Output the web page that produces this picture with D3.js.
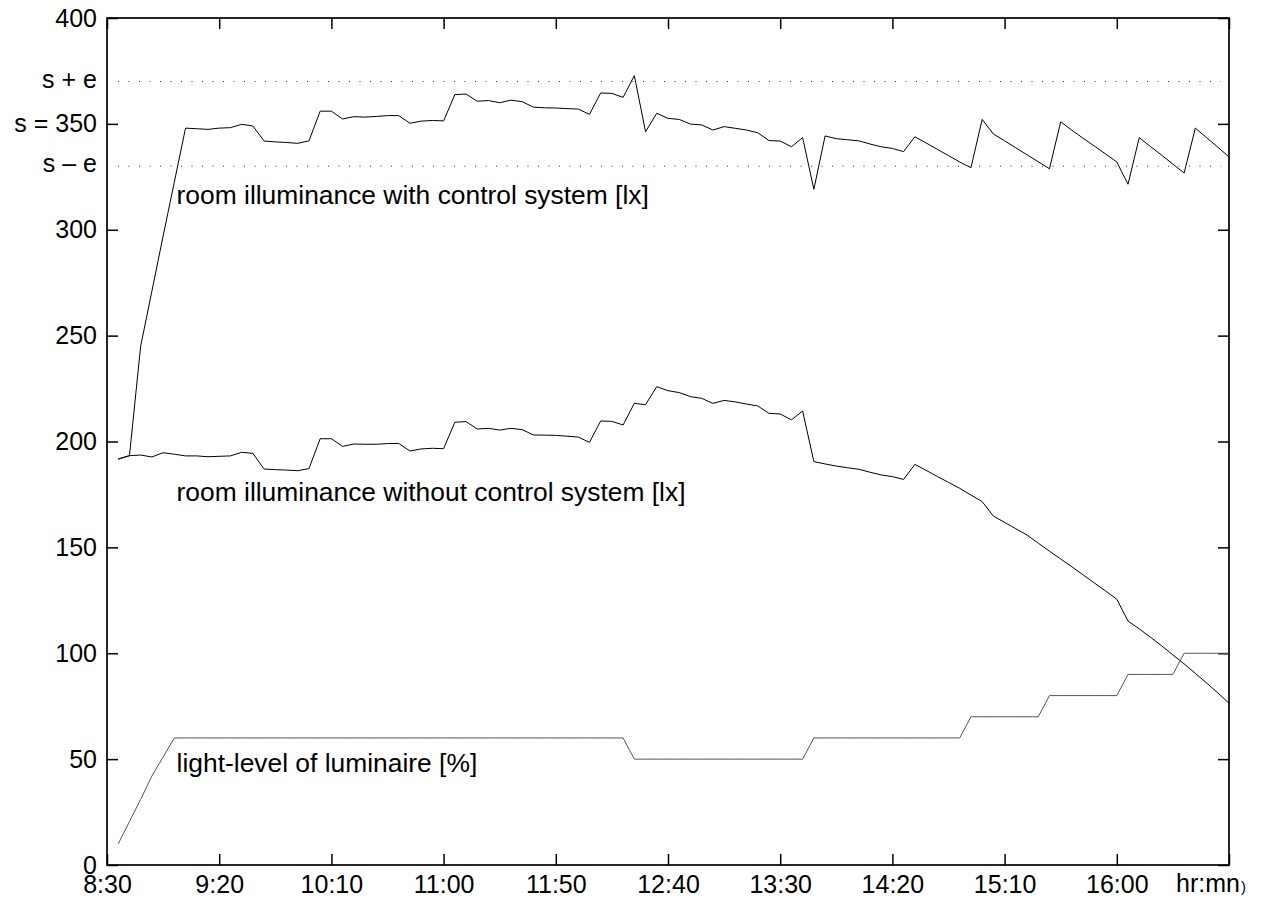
<!DOCTYPE html>
<html>
<head>
<meta charset="utf-8">
<script src="https://cdn.jsdelivr.net/npm/d3@7"></script>
<style>
  body { margin: 0; background: #fff; }
  text { font-family: "Liberation Sans", Arial, Helvetica, sans-serif; }
</style>
</head>
<body>
<div id="chart"></div>
<script>
// x tick labels (every 50 minutes), y ticks and control band
const xTickLabels = ["8:30", "9:20", "10:10", "11:00", "11:50", "12:40", "13:30", "14:20", "15:10", "16:00"];
const xEnd = "16:50";
const yTicks = [0, 50, 100, 150, 200, 250, 300, 350, 400];
const setPoint = 350;
const tolerance = 20;

// samples: one every 5 minutes, starting at 8:35
const sampleStart = "8:35";
const sampleStep = 5;

const withControl = [
    191.7, 193.3, 245, 271, 297, 322.5, 348, 347.7, 347.4, 348,
    348.2, 349.8, 349, 341.9, 341.5, 341.2, 340.8, 342, 356, 356,
    352.3, 353.4, 353.2, 353.5, 353.9, 353.9, 350.3, 351.3, 351.6, 351.4,
    363.8, 364.1, 360.7, 361, 360, 361.2, 360.5, 357.9, 357.6, 357.5,
    357.2, 357, 354.5, 364.6, 364.4, 362.5, 372.8, 346.3, 355, 352.6,
    352.1, 349.9, 349.5, 347.1, 348.7, 347.9, 347.1, 345.8, 342.1, 341.9,
    339.2, 343.5, 319.1, 344.3, 343, 342.5, 342, 340.5, 339.2, 338.4,
    336.9, 343.9, 341, 338, 335, 332, 329.3, 352.1, 345.2, 342,
    338.7, 335.4, 332.1, 328.8, 351, 347, 343.2, 339.5, 335.8, 332,
    321.5, 343.5, 339.3, 335.2, 331, 326.8, 348, 343.5, 339, 334.4
];

const withoutControl = [
    191.7, 193.3, 193.6, 192.7, 194.7, 194, 193.2, 193.2, 192.8, 193,
    193.2, 194.9, 194.4, 187, 186.7, 186.5, 186.2, 187.2, 201.3, 201.3,
    197.7, 198.8, 198.7, 198.7, 199, 199.1, 195.5, 196.5, 196.8, 196.6,
    209.1, 209.4, 205.9, 206.2, 205.4, 206.2, 205.6, 203.1, 203, 202.9,
    202.5, 202.1, 199.6, 209.7, 209.5, 207.8, 218, 217.4, 225.9, 224,
    223.1, 221.2, 220.4, 218, 219.4, 218.7, 217.7, 216.8, 213.3, 213,
    210.2, 214.4, 190.5, 189.4, 188.4, 187.6, 186.9, 185.5, 184.2, 183.4,
    182.1, 189.2, 186.4, 183.5, 180.7, 177.9, 174.7, 171.6, 164.8, 161.8,
    158.8, 155.8, 152, 148.2, 144.5, 140.8, 137, 133.2, 129.4, 125.5,
    115.2, 111.5, 107.6, 103.5, 99.2, 95, 90.5, 86, 81.3, 76.4
];

const lightLevel = [
    10, 20.5, 31, 42, 51, 60, 60, 60, 60, 60,
    60, 60, 60, 60, 60, 60, 60, 60, 60, 60,
    60, 60, 60, 60, 60, 60, 60, 60, 60, 60,
    60, 60, 60, 60, 60, 60, 60, 60, 60, 60,
    60, 60, 60, 60, 60, 60, 50, 50, 50, 50,
    50, 50, 50, 50, 50, 50, 50, 50, 50, 50,
    50, 50, 60, 60, 60, 60, 60, 60, 60, 60,
    60, 60, 60, 60, 60, 60, 70, 70, 70, 70,
    70, 70, 70, 80, 80, 80, 80, 80, 80, 80,
    90, 90, 90, 90, 90, 100, 100, 100, 100, 100
];

// "h:mm" -> minutes since midnight
function toMin(s) {
    let p = s.split(":");
    return +p[0] * 60 + +p[1];
}
function fmt(m) {
    let h = Math.floor(m / 60), mm = m % 60;
    return h + ":" + (mm < 10 ? "0" : "") + mm;
}

let width = 1267, height = 899;
let plot = {left: 107, right: 1229, top: 18, bottom: 865};
let fontSize = 25;
let labelSize = 26.4;

let svg = d3.select("#chart").append("svg")
            .attr("width", width)
            .attr("height", height);

let x = d3.scaleLinear()
          .domain([toMin(xTickLabels[0]), toMin(xEnd)])
          .range([plot.left, plot.right]);
let y = d3.scaleLinear()
          .domain([0, 400])
          .range([plot.bottom, plot.top]);

let t0 = toMin(sampleStart);
let sampleTime = i => t0 + i * sampleStep;

let xTicks = xTickLabels.map(toMin).concat([toMin(xEnd)]);

// axes, ticks pointing inward on all four sides
let styleAxis = g => {
    g.select(".domain").remove();
    g.selectAll(".tick line").attr("stroke", "#000").attr("stroke-width", 1.5);
    g.selectAll("text").attr("font-size", fontSize).attr("fill", "#000")
     .attr("font-family", '"Liberation Sans", Arial, sans-serif');
};

svg.append("g")
   .attr("transform", `translate(0,${plot.bottom})`)
   .call(d3.axisBottom(x).tickValues(xTicks).tickSize(-11).tickPadding(10)
           .tickFormat(d => d === toMin(xEnd) ? "" : fmt(d)))
   .call(styleAxis);

svg.append("g")
   .attr("transform", `translate(0,${plot.top})`)
   .call(d3.axisTop(x).tickValues(xTicks).tickSize(-11).tickFormat(""))
   .call(styleAxis);

svg.append("g")
   .attr("transform", `translate(${plot.left},0)`)
   .call(d3.axisLeft(y).tickValues(yTicks).tickSize(-11).tickPadding(10)
           .tickFormat(d => d === setPoint ? "s = " + setPoint : d))
   .call(styleAxis);

svg.append("g")
   .attr("transform", `translate(${plot.right},0)`)
   .call(d3.axisRight(y).tickValues(yTicks).tickSize(-11).tickFormat(""))
   .call(styleAxis);

// frame
svg.append("rect")
   .attr("x", plot.left).attr("y", plot.top)
   .attr("width", plot.right - plot.left)
   .attr("height", plot.bottom - plot.top)
   .attr("fill", "none")
   .attr("stroke", "#000")
   .attr("stroke-width", 1.7);

// tolerance band s +/- e
let band = [{v: setPoint + tolerance, label: "s + e"}, {v: setPoint - tolerance, label: "s \u2013 e"}];
svg.selectAll(".band")
   .data(band)
   .join("line")
   .attr("class", "band")
   .attr("x1", plot.left + 11).attr("x2", plot.right - 8)
   .attr("y1", d => y(d.v)).attr("y2", d => y(d.v))
   .attr("stroke", "#333")
   .attr("stroke-width", 1)
   .attr("stroke-dasharray", "1,9.5");
svg.selectAll(".bandLabel")
   .data(band)
   .join("text")
   .attr("class", "bandLabel")
   .attr("x", plot.left - 10)
   .attr("y", d => y(d.v) + 6)
   .attr("text-anchor", "end")
   .attr("font-size", fontSize)
   .text(d => d.label);

// unit label at the end of the time axis
svg.append("text")
   .attr("x", x(toMin(xEnd)) - 53)
   .attr("y", plot.bottom + 27)
   .attr("font-size", fontSize)
   .text("hr:mn");
svg.append("text")
   .attr("x", x(toMin(xEnd)) + 12)
   .attr("y", plot.bottom + 27)
   .attr("font-size", 15)
   .text(")");

// the three series
let line = d3.line()
             .x((d, i) => x(sampleTime(i)))
             .y(d => y(d));

let series = [
    {values: withControl, color: "#000"},
    {values: withoutControl, color: "#000"},
    {values: lightLevel, color: "#555"}
];
svg.selectAll(".series")
   .data(series)
   .join("path")
   .attr("class", "series")
   .attr("d", d => line(d.values))
   .attr("fill", "none")
   .attr("stroke", d => d.color)
   .attr("stroke-width", 1);

// series labels
let labels = [
    {t: "9:01", v: 312, text: "room illuminance with control system [lx]"},
    {t: "9:01", v: 172, text: "room illuminance without control system [lx]"},
    {t: "9:01", v: 44, text: "light-level of luminaire [%]"}
];
svg.selectAll(".seriesLabel")
   .data(labels)
   .join("text")
   .attr("class", "seriesLabel")
   .attr("x", d => x(toMin(d.t)))
   .attr("y", d => y(d.v))
   .attr("font-size", labelSize)
   .text(d => d.text);
</script>
</body>
</html>
